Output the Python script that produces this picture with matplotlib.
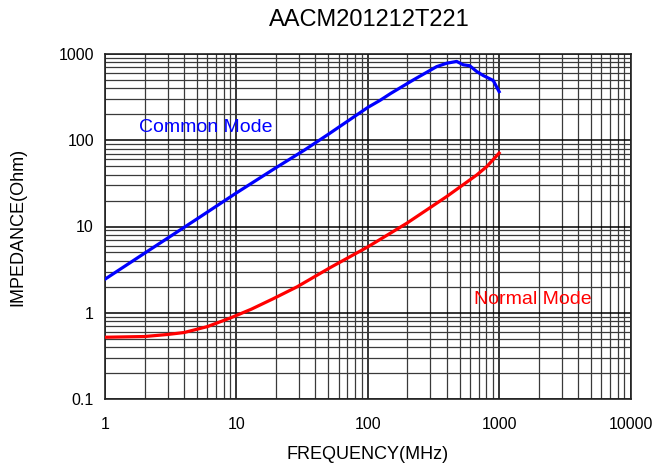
import matplotlib
matplotlib.use("Agg")
import matplotlib.pyplot as plt
from matplotlib.ticker import LogLocator, FixedLocator, FixedFormatter, NullFormatter

plt.rcParams["font.family"] = ["Liberation Sans", "DejaVu Sans"]

title = "AACM201212T221"

# Common mode impedance (Ohm) vs frequency (MHz)
cm_freq = [1, 2, 5, 10, 20, 33, 50, 100, 124, 150, 222, 334, 398, 475, 533, 597, 674, 757, 902, 1000]
cm_imp = [2.45, 4.9, 12.2, 24.5, 48, 77, 117, 240, 290, 350, 500, 713, 781, 820, 750, 731, 628, 563, 493, 366]

# Normal mode impedance (Ohm) vs frequency (MHz)
nm_freq = [1, 2, 3, 4, 6, 9, 13, 19, 29, 52, 100, 198, 398, 674, 804, 1000]
nm_imp = [0.52, 0.53, 0.56, 0.59, 0.69, 0.87, 1.1, 1.45, 2.0, 3.35, 5.8, 10.9, 22.2, 39.5, 49.4, 71]

x_ticks = [1, 10, 100, 1000, 10000]
x_labels = ["1", "10", "100", "1000", "10000"]
y_ticks = [0.1, 1, 10, 100, 1000]
y_labels = ["0.1", "1", "10", "100", "1000"]

fig = plt.figure(figsize=(6.59, 4.66), dpi=100)
ax = fig.add_axes([105 / 659, 1 - 399 / 466, (630.5 - 105) / 659, (399 - 54) / 466])

ax.set_xscale("log")
ax.set_yscale("log")
ax.set_xlim(1, 10000)
ax.set_ylim(0.1, 1000)

ax.xaxis.set_major_locator(FixedLocator(x_ticks))
ax.xaxis.set_major_formatter(FixedFormatter(x_labels))
ax.yaxis.set_major_locator(FixedLocator(y_ticks))
ax.yaxis.set_major_formatter(FixedFormatter(y_labels))
ax.xaxis.set_minor_locator(LogLocator(base=10, subs=range(2, 10), numticks=20))
ax.yaxis.set_minor_locator(LogLocator(base=10, subs=range(2, 10), numticks=20))
ax.xaxis.set_minor_formatter(NullFormatter())
ax.yaxis.set_minor_formatter(NullFormatter())

ax.grid(which="major", color="black", linewidth=1.1)
ax.grid(which="minor", color="#3a3a3a", linewidth=0.9)
ax.tick_params(axis="x", which="both", length=0, labelsize=11.5, pad=13)
ax.tick_params(axis="y", which="both", length=0, labelsize=11.5, pad=8)
for sp in ax.spines.values():
    sp.set_color("#222222")
    sp.set_linewidth(1.2)

ax.plot(cm_freq, cm_imp, color="#0000ff", linewidth=2.3, zorder=3)
ax.plot(nm_freq, nm_imp, color="#ff0000", linewidth=2.3, zorder=3)

ax.text(139 / 659, 1 - 127 / 466, "Common Mode", transform=fig.transFigure,
        color="#0000ff", fontsize=14, va="center", ha="left")
ax.text(474 / 659, 1 - 299 / 466, "Normal Mode", transform=fig.transFigure,
        color="#ff0000", fontsize=14, va="center", ha="left")

fig.text(369 / 659, 1 - 20 / 466, title, fontsize=17, ha="center", va="center")
ax.set_xlabel("FREQUENCY(MHz)", fontsize=13, labelpad=10)
ax.set_ylabel("IMPEDANCE(Ohm)", fontsize=13, labelpad=23)

fig.savefig("out.png", dpi=100)
